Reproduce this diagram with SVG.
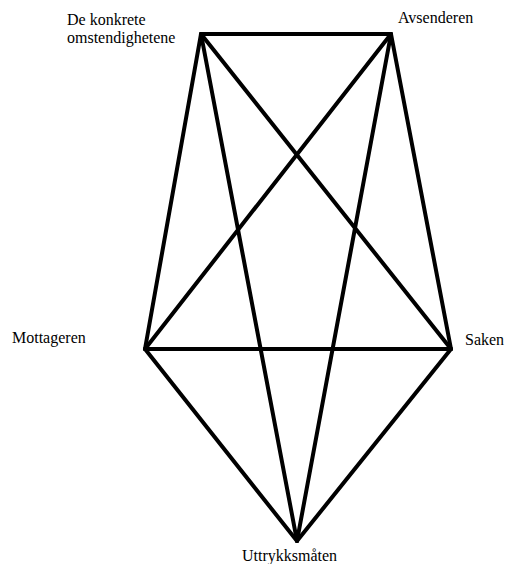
<svg xmlns="http://www.w3.org/2000/svg" width="507" height="564" viewBox="0 0 507 564">
<style>
.e{stroke:#000;stroke-width:4;stroke-linecap:round;stroke-linejoin:round;fill:none}
.t{font-family:'Liberation Serif',serif;font-size:16px;fill:#000}
</style>
<rect width="507" height="564" fill="#fff"/>
<g id="connectors">
<line class="e" x1="201" y1="34" x2="391" y2="34"/>
<line class="e" x1="201" y1="34" x2="145" y2="349"/>
<line class="e" x1="201" y1="34" x2="451" y2="349"/>
<line class="e" x1="201" y1="34" x2="297" y2="541"/>
<line class="e" x1="391" y1="34" x2="145" y2="349"/>
<line class="e" x1="391" y1="34" x2="451" y2="349"/>
<line class="e" x1="391" y1="34" x2="297" y2="541"/>
<line class="e" x1="145" y1="349" x2="451" y2="349"/>
<line class="e" x1="145" y1="349" x2="297" y2="541"/>
<line class="e" x1="451" y1="349" x2="297" y2="541"/>
</g>
<g id="node-konkrete"><text class="t" font-family="Liberation Serif, serif" x="67" y="25">De konkrete</text><text class="t" font-family="Liberation Serif, serif" x="67" y="43">omstendighetene</text></g>
<g id="node-avsenderen"><text class="t" font-family="Liberation Serif, serif" x="398" y="23">Avsenderen</text></g>
<g id="node-mottageren"><text class="t" font-family="Liberation Serif, serif" x="12" y="343">Mottageren</text></g>
<g id="node-saken"><text class="t" font-family="Liberation Serif, serif" x="465" y="345">Saken</text></g>
<g id="node-uttrykksmaten"><text class="t" font-family="Liberation Serif, serif" x="242" y="561">Uttrykksmåten</text></g>
</svg>
